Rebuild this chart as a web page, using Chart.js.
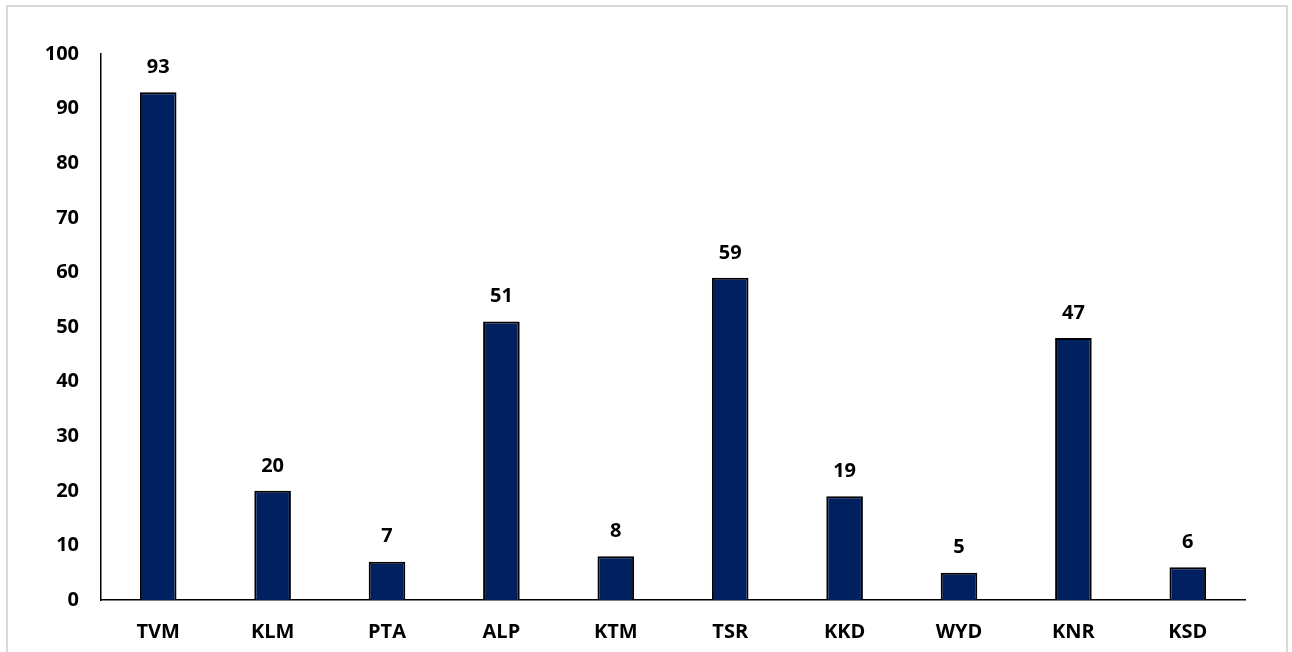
<!DOCTYPE html>
<html>
<head>
<meta charset="utf-8">
<script src="https://cdn.jsdelivr.net/npm/chart.js@4"></script>
<style>
  html, body { margin: 0; padding: 0; background: #fff; }
  #frame {
    position: absolute; left: 6px; top: 5px; width: 1282px; height: 660px;
    border: 2px solid #d9d9d9; box-sizing: border-box;
  }
  #wrap { position: absolute; left: 0; top: 0; width: 1292px; height: 652px; }
</style>
</head>
<body>
<div id="frame"></div>
<div id="wrap"><canvas id="chart" width="1292" height="652"></canvas></div>
<script>
const districts = ["TVM", "KLM", "PTA", "ALP", "KTM", "TSR", "KKD", "WYD", "KNR", "KSD"];
const barValues = [93, 20, 7, 51, 8, 59, 19, 5, 48, 6];
const valueLabels = ["93", "20", "7", "51", "8", "59", "19", "5", "47", "6"];
const yTicks = [0, 10, 20, 30, 40, 50, 60, 70, 80, 90, 100];

const fontFamily = "'Open Sans', sans-serif";

// draws the number above each bar
const valueTextPlugin = {
    id: "valueText",
    afterDatasetsDraw(chart) {
        const { ctx } = chart;
        ctx.save();
        ctx.fillStyle = "#000";
        ctx.font = "bold 20px " + fontFamily;
        ctx.textAlign = "center";
        ctx.textBaseline = "middle";
        chart.getDatasetMeta(0).data.forEach((bar, i) => {
            ctx.fillText(valueLabels[i], bar.x, bar.y - 25);
        });
        ctx.restore();
    },
};

new Chart(document.getElementById("chart"), {
    type: "bar",
    data: {
        labels: districts,
        datasets: [{
            data: barValues,
            backgroundColor: "#002060",
            borderColor: "#000",
            borderWidth: 2,
            barPercentage: 0.32,
            categoryPercentage: 1,
        }],
    },
    options: {
        responsive: false,
        animation: false,
        layout: { padding: { left: 7, top: 54, right: 47, bottom: 0 } },
        scales: {
            x: {
                grid: { display: false, drawTicks: false },
                border: { display: true, color: "#000", width: 1.5 },
                ticks: {
                    color: "#000",
                    padding: 20,
                    font: { family: fontFamily, size: 20, weight: "bold" },
                },
                afterFit(scale) { scale.height = 52; },
            },
            y: {
                min: 0,
                max: 100,
                grid: { display: false, drawTicks: false },
                border: { display: true, color: "#000", width: 1.5 },
                afterBuildTicks(scale) { scale.ticks = yTicks.map(v => ({ value: v })); },
                ticks: {
                    color: "#000",
                    padding: 22,
                    font: { family: fontFamily, size: 20, weight: "bold" },
                },
                afterFit(scale) { scale.width = 94; },
            },
        },
        plugins: {
            legend: { display: false },
            tooltip: { enabled: false },
        },
    },
    plugins: [valueTextPlugin],
});
</script>
</body>
</html>
